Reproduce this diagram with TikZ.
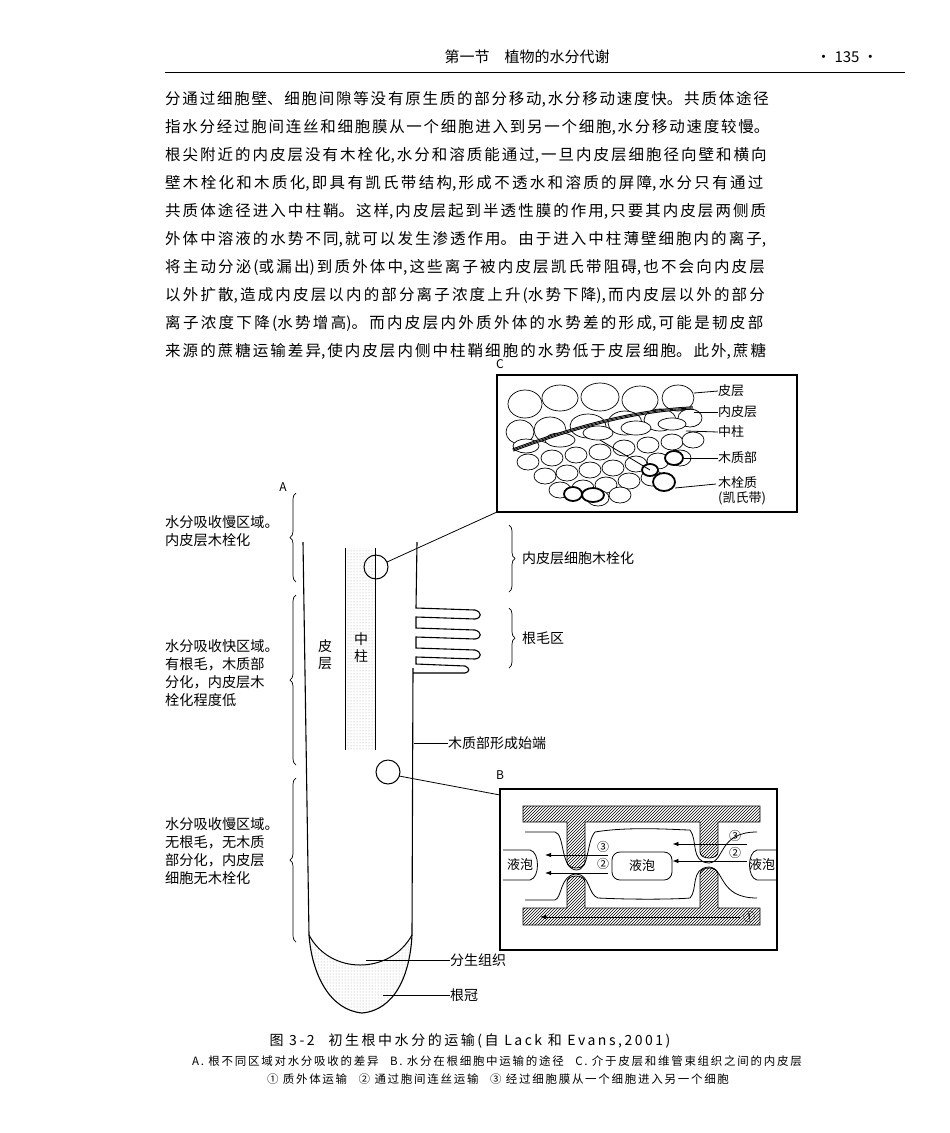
\documentclass[tikz,border=0pt]{standalone}
\usepackage{fontspec}
\setmainfont{Noto Sans CJK SC}
\usetikzlibrary{patterns,decorations.pathreplacing,arrows.meta}
\XeTeXlinebreaklocale "zh"
\XeTeXlinebreakskip=0pt plus 3pt
\tikzset{
 bodyline/.style={anchor=west,inner sep=0pt,text width=622pt,font=\fontsize{15.5}{18}\selectfont},
 lab/.style={anchor=west,inner sep=0pt,font=\fontsize{14}{16}\selectfont},
 clab/.style={anchor=west,inner sep=0pt,font=\fontsize{13}{15}\selectfont},
 side/.style={anchor=north west,inner sep=0pt,align=left,font=\fontsize{14.2}{18}\selectfont},
 cell/.style={draw,fill=white,line width=0.7pt},
 thk/.style={draw,fill=white,line width=1.8pt},
 wall/.style={pattern=north east lines,draw,line width=0.8pt},
 br/.style={decorate,decoration={brace,amplitude=6pt},line width=0.7pt},
 arr/.style={-{Latex[length=6pt]},line width=0.8pt},
 ld/.style={line width=0.8pt},
 plab/.style={inner sep=0pt,font=\fontsize{12}{13}\selectfont}
}
\newcommand{\bl}[1]{\parfillskip=0pt #1\par}
\begin{document}
\begin{tikzpicture}[x=1pt,y=-1pt]
\useasboundingbox (0,0) rectangle (950,1133);
% header
\node[inner sep=0pt,font=\fontsize{15}{18}\selectfont] (hd) at (527,57) {第一节\quad 植物的水分代谢};
\node[inner sep=0pt,font=\fontsize{15}{18}\selectfont] (pg) at (847,57) {·\ 135\ ·};
\draw[line width=0.6pt] (165,72) -- (905,72);
% body
\foreach \t [count=\i] in {
{分通过细胞壁、细胞间隙等没有原生质的部分移动,水分移动速度快。共质体途径},
{指水分经过胞间连丝和细胞膜从一个细胞进入到另一个细胞,水分移动速度较慢。},
{根尖附近的内皮层没有木栓化,水分和溶质能通过,一旦内皮层细胞径向壁和横向},
{壁木栓化和木质化,即具有凯氏带结构,形成不透水和溶质的屏障,水分只有通过},
{共质体途径进入中柱鞘。这样,内皮层起到半透性膜的作用,只要其内皮层两侧质},
{外体中溶液的水势不同,就可以发生渗透作用。由于进入中柱薄壁细胞内的离子,},
{将主动分泌(或漏出)到质外体中,这些离子被内皮层凯氏带阻碍,也不会向内皮层},
{以外扩散,造成内皮层以内的部分离子浓度上升(水势下降),而内皮层以外的部分},
{离子浓度下降(水势增高)。而内皮层内外质外体的水势差的形成,可能是韧皮部},
{来源的蔗糖运输差异,使内皮层内侧中柱鞘细胞的水势低于皮层细胞。此外,蔗糖}}
 \node[bodyline] (t\i) at (165,{71+28*\i}) {\bl{\t}};
% ===== panel C =====
\node[plab] (lC) at (500,364) {C};
\draw[line width=1.2pt] (497,375) rectangle (797,512);
\coordinate (cC) at (497,512);
\foreach \x/\y/\a/\b in {525/404/17/14,560/398/18/13,600/397/19/14,640/400/18/14,678/398/16/13,
 520/432/14/12,550/430/16/13,588/426/18/12,625/423/17/12,660/420/16/11,690/418/12/9,
 526/446/13/7,560/440/15/7,598/433/15/7,636/428/15/7,672/424/14/6}
 \draw[cell] (\x,\y) ellipse ({\a} and {\b});
\foreach \x/\y in {528/462,552/458,576/455,600/452,624/448,648/445,672/442,693/440,
 545/476,567/473,590/470,613/468,636/464,658/461,680/458,
 560/490,583/488,606/485,629/481,652/478,598/498,620/495}
 \draw[cell] (\x,\y) ellipse (11 and 8);
\foreach \x/\y/\a/\b in {573/494/9/7,593/495/11/7,674/458/9/7,664/482/11/9,650/470/8/6}
 \draw[thk] (\x,\y) ellipse ({\a} and {\b});
\draw[line width=3.2pt] (513,450) .. controls (580,425) and (640,410) .. (693,408);
\draw[white,line width=1.2pt] (513,450) .. controls (580,425) and (640,410) .. (693,408);
\draw[line width=0.8pt] (513,450) .. controls (580,425) and (640,410) .. (693,408);
\node[clab] (c1) at (718,391) {皮层};
\node[clab] (c2) at (718,412) {内皮层};
\node[clab] (c3) at (718,432) {中柱};
\node[clab] (c4) at (718,458) {木质部};
\node[clab,align=left,anchor=north west] (c5) at (718,476) {木栓质\\(凯氏带)};
\draw[ld] (694,393) -- (c1.west);
\draw[ld] (694,412) -- (c2.west);
\draw[ld] (686,431) -- (c3.west);
\draw[ld] (684,458) -- (c4.west);
\draw[ld] (675,488) -- (716,484);
\draw[ld] (600,440) -- (650,470);
% ===== panel A =====
\node[plab] (lA) at (283,487) {A};
\fill[pattern=dots,pattern color=gray!70] (345,548) rectangle (375,750);
\draw[line width=1pt] (345,548) -- (345,750);
\draw[line width=1pt] (375,548) -- (375,750);
\node[inner sep=0pt,align=center,font=\fontsize{14}{17}\selectfont] (zz) at (361,648) {中\\柱};
\node[inner sep=0pt,align=center,font=\fontsize{14}{17}\selectfont] (pc) at (325,655) {皮\\层};
% root outline
\fill[pattern=dots,pattern color=gray!70] (309,935) .. controls (330,975) and (390,975) .. (412,935) .. controls (410,975) and (395,1010) .. (362,1013) .. controls (330,1010) and (312,975) .. (309,935);
\draw[line width=1.1pt] (303,542) -- (309,935) .. controls (312,975) and (330,1010) .. (362,1013) .. controls (395,1010) and (410,975) .. (412,935) -- (413,668);
\draw[line width=1pt] (309,935) .. controls (330,975) and (390,975) .. (412,935);
\draw[line width=1.1pt] (417,542) -- (416,608) -- (475,610) .. controls (482,612) and (482,618) .. (475,619) -- (416,617) -- (416,628) -- (475,630) .. controls (482,632) and (482,638) .. (475,639) -- (416,637) -- (416,648) -- (475,650) .. controls (482,652) and (482,658) .. (475,659) -- (416,657) -- (416,664) -- (465,666) .. controls (470,668) and (470,672) .. (465,673) -- (413,673);
\draw[line width=1pt] (376,567) circle (12);
\draw[line width=1pt] (388,772) circle (12);
\draw[ld] (387,562) -- (cC);
\coordinate (cB) at (500,795);
\draw[ld] (399,776) -- (cB);
% left braces
\draw[br] (296,582) -- (296,493);
\draw[br] (296,765) -- (296,595);
\draw[br] (296,942) -- (296,778);
\node[side] (s1) at (165,515) {水分吸收慢区域。\\内皮层木栓化};
\node[side] (s2) at (165,639) {水分吸收快区域。\\有根毛，木质部\\分化，内皮层木\\栓化程度低};
\node[side] (s3) at (165,817) {水分吸收慢区域。\\无根毛，无木质\\部分化，内皮层\\细胞无木栓化};
% right braces
\draw[br] (509,525) -- (509,592);
\draw[br] (509,608) -- (509,668);
\node[lab] (r1) at (522,558) {内皮层细胞木栓化};
\node[lab] (r2) at (522,638) {根毛区};
\node[lab] (r3) at (448,743) {木质部形成始端};
\draw[ld] (414,743) -- (r3.west);
\node[lab] (r4) at (450,960) {分生组织};
\node[lab] (r5) at (450,995) {根冠};
\draw[ld] (366,960) -- (r4.west);
\draw[ld] (383,995) -- (r5.west);
% ===== panel B =====
\node[plab] (lB) at (500,775) {B};
\draw[line width=1.2pt] (500,789) rectangle (777,950);
\draw[wall] (523,806) -- (760,806) -- (760,822) -- (718,822) -- (718,852) .. controls (718,860) and (700,860) .. (700,852) -- (700,822) -- (585,822) -- (585,862) .. controls (585,870) and (567,870) .. (567,862) -- (567,822) -- (523,822) -- cycle;
\draw[wall] (523,925) -- (760,925) -- (760,908) -- (718,908) -- (718,874) .. controls (718,866) and (700,866) .. (700,874) -- (700,908) -- (585,908) -- (585,882) .. controls (585,874) and (567,874) .. (567,882) -- (567,908) -- (523,908) -- cycle;
% membranes
\draw[ld] (525,832) -- (555,832) .. controls (565,834) and (560,868) .. (576,870) .. controls (590,870) and (586,842) .. (595,832) .. controls (630,826) and (680,830) .. (690,830) .. controls (698,840) and (690,862) .. (709,863) .. controls (725,862) and (718,832) .. (757,832);
\draw[ld] (525,900) -- (555,900) .. controls (562,898) and (560,875) .. (576,874) .. controls (590,874) and (588,895) .. (598,898) .. controls (640,900) and (680,899) .. (690,898) .. controls (698,890) and (690,868) .. (709,867) .. controls (725,868) and (718,898) .. (757,898);
% vacuoles
\node[inner sep=0pt,font=\fontsize{13}{14}\selectfont] (v1) at (520,865) {液泡};
\draw[ld] (503,850) -- (530,850) .. controls (540,852) and (540,878) .. (530,880) -- (503,880);
\node[draw,rounded corners=8pt,ld,minimum width=60pt,minimum height=28pt,inner sep=0pt,font=\fontsize{13}{14}\selectfont] (v2) at (642,866) {液泡};
\node[inner sep=0pt,font=\fontsize{13}{14}\selectfont] (v3) at (762,865) {液泡};
\draw[ld] (776,850) -- (757,850) .. controls (747,852) and (747,878) .. (757,880) -- (776,880);
% arrows and numbers
\coordinate (a1s) at (608,855); \coordinate (a1e) at (545,855);
\coordinate (a2s) at (608,873); \coordinate (a2e) at (545,873);
\draw[arr] (a1s) -- (a1e);
\draw[arr] (a2s) -- (a2e);
\coordinate (a3s) at (747,844); \coordinate (a3e) at (683,844);
\draw[arr] (a3s) -- (v2.east |- a3e);
\draw[arr] (747,861) -- (v2.east |- 0,861);
\draw[arr] (740,917) -- (540,917);
\foreach \n/\x/\y in {3/603/847,2/603/864,3/735/836,2/735/853,1/749/917}
 \node[inner sep=0pt,font=\fontsize{12}{12}\selectfont] at (\x,\y) {\ifcase\n\or ①\or ②\or ③\fi};
% caption
\node[inner sep=0pt,font=\fontsize{14}{16}\selectfont\addfontfeatures{LetterSpace=18}] (cap1) at (470,1041) {图 3-2\quad 初生根中水分的运输(自 Lack 和 Evans,2001)};
\node[inner sep=0pt,font=\fontsize{11.5}{13}\selectfont\addfontfeatures{LetterSpace=15}] (cap2) at (497,1061) {A. 根不同区域对水分吸收的差异\quad B. 水分在根细胞中运输的途径\quad C. 介于皮层和维管束组织之间的内皮层};
\node[inner sep=0pt,font=\fontsize{11.5}{13}\selectfont\addfontfeatures{LetterSpace=15}] (cap3) at (498,1079) {① 质外体运输\quad ② 通过胞间连丝运输\quad ③ 经过细胞膜从一个细胞进入另一个细胞};
\end{tikzpicture}
\end{document}
